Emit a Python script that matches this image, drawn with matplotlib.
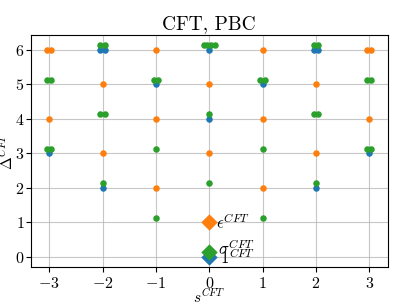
import matplotlib
matplotlib.use('Agg')
import matplotlib.pyplot as plt

plt.rcParams['font.family'] = 'serif'
plt.rcParams['font.serif'] = ['cmr10', 'DejaVu Serif']
plt.rcParams['mathtext.fontset'] = 'cm'
plt.rcParams['axes.formatter.use_mathtext'] = True
plt.rcParams['axes.unicode_minus'] = False

# identity tower (descendants), degenerate levels slightly spread in s
s_id = [2, -2, 3, -3, 0, 1, -1, 0, 1.96, 2.04, -2.04, -1.96]
d_id = [2, 2, 3, 3, 4, 5, 5, 6, 6, 6, 6, 6]

# epsilon tower
s_eps = [1, -1, 2, -2, 0, 3, -3, 1, -1, 2, -2, 0, 2.96, 3.04, -3.04, -2.96, 1, -1]
d_eps = [2, 2, 3, 3, 3, 4, 4, 4, 4, 5, 5, 5, 6, 6, 6, 6, 6, 6]

# sigma tower
s_sig = [1, -1, 2, -2, 0,
         2.96, 3.04, -3.04, -2.96, 1, -1,
         1.96, 2.04, -2.04, -1.96, 0,
         2.96, 3.04, -3.04, -2.96, 0.96, 1.04, -1.04, -0.96,
         1.96, 2.04, -2.04, -1.96, -0.105, -0.035, 0.035, 0.105]
d_sig = [1.125, 1.125, 2.125, 2.125, 2.125,
         3.125, 3.125, 3.125, 3.125, 3.125, 3.125,
         4.125, 4.125, 4.125, 4.125, 4.125,
         5.125, 5.125, 5.125, 5.125, 5.125, 5.125, 5.125, 5.125,
         6.125, 6.125, 6.125, 6.125, 6.125, 6.125, 6.125, 6.125]

# primaries
prim_s = [0, 0, 0]
prim_d = [0, 1, 0.125]
prim_labels = [r'$\mathbf{1}^{CFT}$', r'$\epsilon^{CFT}$', r'$\sigma^{CFT}$']
colors = ['#1f77b4', '#ff7f0e', '#2ca02c']

fig, ax = plt.subplots(figsize=(4.07, 3.05), dpi=100)
ax.grid(True, color='#b0b0b0', lw=0.8, alpha=0.7)
ax.set_axisbelow(True)

for xs, ys, c in zip([s_id, s_eps, s_sig], [d_id, d_eps, d_sig], colors):
    ax.scatter(xs, ys, s=22, color=c, zorder=3, lw=0)

for x, y, c in zip(prim_s, prim_d, colors):
    ax.scatter([x], [y], s=70, marker='D', color=c, zorder=4, lw=0)

ax.text(0.12, 1.02, prim_labels[1], fontsize=12, va='center', ha='left')
ax.text(0.17, 0.26, prim_labels[2], fontsize=12, va='center', ha='left')
ax.text(0.2, -0.03, prim_labels[0], fontsize=12, va='center', ha='left')

ax.set_xlim(-3.35, 3.35)
ax.set_ylim(-0.3, 6.42)
ax.set_xticks(range(-3, 4))
ax.set_yticks(range(0, 7))
ax.tick_params(axis='x', labelsize=11.5, pad=3)
ax.tick_params(axis='y', labelsize=11.5, pad=1)
ax.set_title('CFT, PBC', fontsize=14, pad=4)
ax.set_xlabel(r'$s^{CFT}$', fontsize=11)
ax.set_ylabel(r'$\Delta^{CFT}$', fontsize=11)
ax.xaxis.set_label_coords(0.5, -0.088)
ax.yaxis.set_label_coords(-0.042, 0.5)

fig.subplots_adjust(left=0.075, right=0.953, top=0.885, bottom=0.125)
fig.savefig('out.png', dpi=100)
